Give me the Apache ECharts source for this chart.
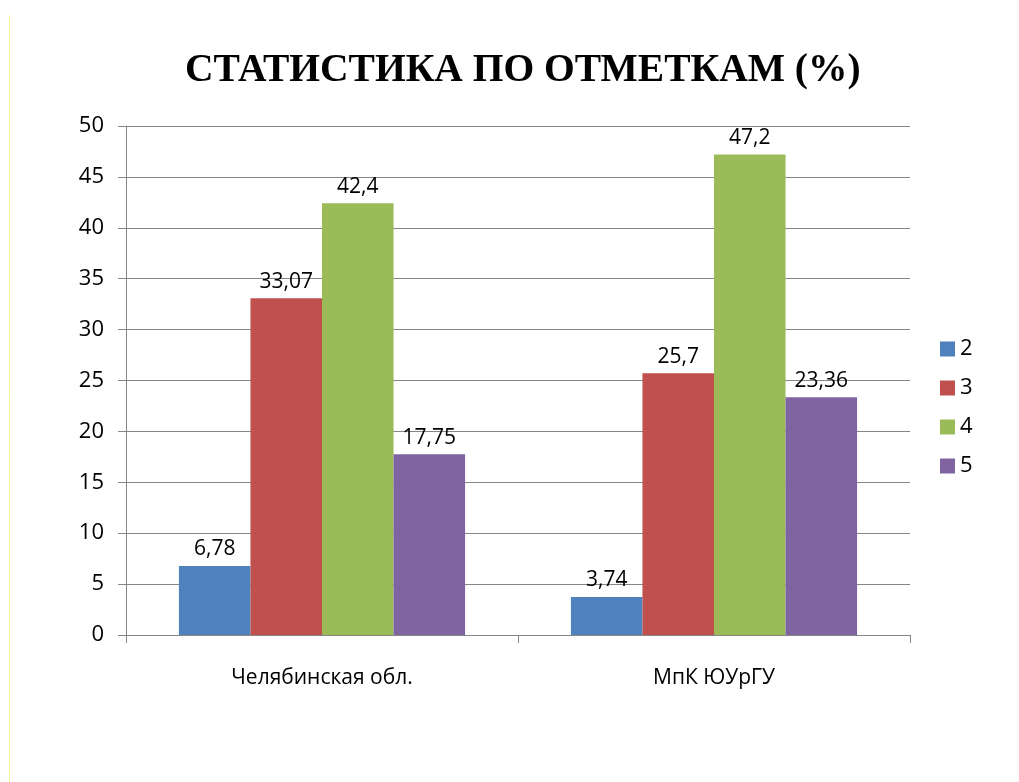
<!DOCTYPE html>
<html>
<head>
<meta charset="utf-8">
<script src="https://cdn.jsdelivr.net/npm/echarts@6/dist/echarts.min.js"></script>
<style>
  html, body { margin: 0; padding: 0; background: #fff; }
  #chart { width: 1019px; height: 782px; }
</style>
</head>
<body>
<div id="chart"></div>
<script>
// данные
const categories = ['Челябинская обл.', 'МпК ЮУрГУ'];
const seriesNames = ['2', '3', '4', '5'];
const grade2 = [6.78, 3.74];
const grade3 = [33.07, 25.7];
const grade4 = [42.4, 47.2];
const grade5 = [17.75, 23.36];
const colors = ['#4F81BD', '#C0504D', '#9BBB59', '#8064A2'];

const chart = echarts.init(document.getElementById('chart'));

const values = [grade2, grade3, grade4, grade5];
const labelFont = 'Open Sans, Liberation Sans, sans-serif';

const options = {
  animation: false,
  title: {
    text: 'СТАТИСТИКА ПО ОТМЕТКАМ (%)',
    left: 180,
    top: 46,
    textStyle: {
      fontFamily: 'Liberation Serif, Times New Roman, serif',
      fontWeight: 'bold',
      fontSize: 39.5,
      color: '#000'
    }
  },
  legend: {
    orient: 'vertical',
    left: 935,
    top: 333,
    itemWidth: 15,
    itemHeight: 15,
    itemGap: 17,
    icon: 'rect',
    textStyle: { fontFamily: labelFont, fontSize: 22, color: '#000' },
    data: seriesNames
  },
  grid: { left: 126, right: 109, top: 126, bottom: 147 },
  xAxis: {
    type: 'category',
    data: categories,
    axisLine: { lineStyle: { color: '#868686' } },
    axisTick: { show: true, length: 8, lineStyle: { color: '#868686' } },
    axisLabel: { margin: 33, fontFamily: labelFont, fontSize: 21, color: '#000' }
  },
  yAxis: {
    type: 'value',
    min: 0,
    max: 50,
    interval: 5,
    axisLine: { show: true, lineStyle: { color: '#868686' } },
    axisTick: { show: true, length: 8, lineStyle: { color: '#868686' } },
    splitLine: { lineStyle: { color: '#868686' } },
    axisLabel: { margin: 22, fontFamily: labelFont, fontSize: 22, color: '#000' }
  },
  series: seriesNames.map((name, i) => ({
    name: name,
    type: 'bar',
    data: values[i],
    barGap: 0,
    barCategoryGap: '27%',
    itemStyle: { color: colors[i] },
    label: {
      show: true,
      position: 'top',
      distance: 6,
      fontFamily: labelFont,
      fontSize: 21,
      color: '#000',
      formatter: (p) => String(p.value).replace('.', ',')
    }
  })),
  graphic: [{
    type: 'line',
    shape: { x1: 9.5, y1: 15, x2: 9.5, y2: 782 },
    style: { stroke: '#f4f4a0', lineWidth: 1 }
  }]
};

chart.setOption(options);
</script>
</body>
</html>
